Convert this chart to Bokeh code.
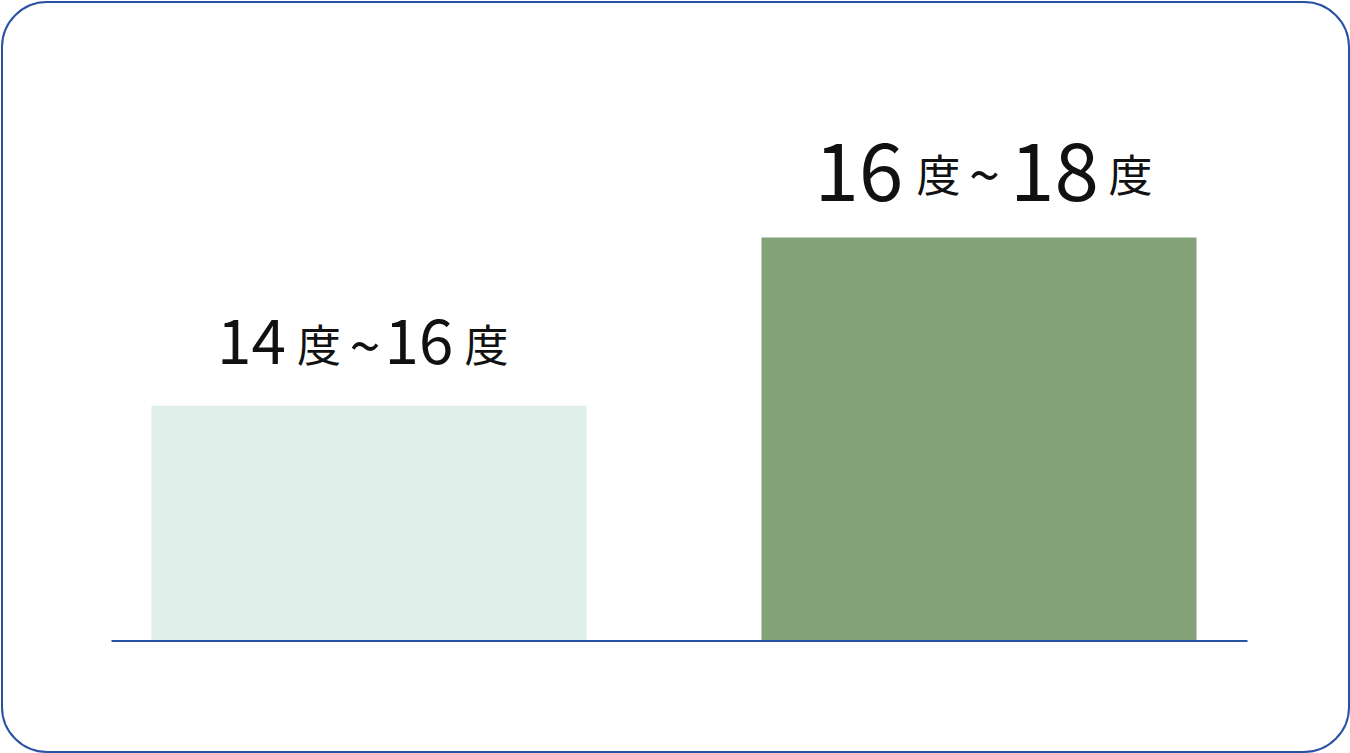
import re
from bokeh.plotting import figure
from bokeh.models import ColumnDataSource, Range1d
from bokeh.core.properties import value
from bokeh.embed import file_html
from bokeh.resources import INLINE

# ---- data ----
categories = ["14度~16度", "16度~18度"]
values = [35, 60]
bar_colors = ["#dfeee8", "#84a278"]

# ---- layout / style (pixels) ----
W, H = 1350, 753
PX_PER_CAT = 610.0
PX_PER_VAL = 403.5 / 60.0
CENTER0_PX = 368.5
BASE_FROM_BOTTOM = 112.5
BAR_W_PX = 435.0
AXIS_PAD_LEFT_PX = 40.0
AXIS_PAD_RIGHT_PX = 51.0
BLUE = "#2a52a3"
FONT = "Noto Sans CJK JP"

# per label: (x offset, y offset) of each run's centre relative to bar centre / bar top
run_offsets = [
    [(-117.5, -64.5), (-50, -62.5), (-4, -63), (50, -64.5), (117.5, -62.5)],
    [(-120, -66), (-40.5, -65), (5.5, -66), (75.5, -66), (151.5, -65)],
]
digit_sizes = [62, 80]
cjk_size = 44
tilde_size = 56

x_range = Range1d(-CENTER0_PX / PX_PER_CAT, (W - CENTER0_PX) / PX_PER_CAT)
y_range = Range1d(-BASE_FROM_BOTTOM / PX_PER_VAL, (H - BASE_FROM_BOTTOM) / PX_PER_VAL)

p = figure(width=W, height=H, x_range=x_range, y_range=y_range,
           output_backend="svg", toolbar_location=None,
           x_axis_location=None, y_axis_location=None, min_border=0)
p.grid.visible = False
p.outline_line_color = None
p.background_fill_color = "white"
p.border_fill_color = "white"

# rounded frame
p.quad(left=[x_range.start + 1.5 / PX_PER_CAT], right=[x_range.end - 1.5 / PX_PER_CAT],
       bottom=[y_range.start + 1.5 / PX_PER_VAL], top=[y_range.end - 1.5 / PX_PER_VAL],
       fill_color=None, line_color=BLUE, line_width=2, border_radius=45)

xs = list(range(len(categories)))
bar_w = BAR_W_PX / PX_PER_CAT
p.vbar(x=xs, top=values, bottom=0, width=bar_w, fill_color=bar_colors, line_color=None)

# baseline
p.segment(x0=[xs[0] - bar_w / 2 - AXIS_PAD_LEFT_PX / PX_PER_CAT],
          x1=[xs[-1] + bar_w / 2 + AXIS_PAD_RIGHT_PX / PX_PER_CAT],
          y0=[0], y1=[0], line_color=BLUE, line_width=2)

# labels made of runs (digits large, 度 / ~ smaller)
tx, ty, tt, tsz, txo, tyo = [], [], [], [], [], []
for i, cat in enumerate(categories):
    runs = re.findall(r"\d+|\D", cat)
    for run, (dx, dy) in zip(runs, run_offsets[i]):
        tx.append(xs[i]); ty.append(values[i]); tt.append(run)
        if run.isdigit():
            size = digit_sizes[i]
        elif run == "~":
            size = tilde_size
        else:
            size = cjk_size
        tsz.append(f"{size}px")
        txo.append(dx); tyo.append(dy)
src = ColumnDataSource(dict(x=tx, y=ty, text=tt, size=tsz, xo=txo, yo=tyo))
p.text(x="x", y="y", text="text", source=src, text_font_size="size",
       x_offset="xo", y_offset="yo", text_align="center", text_baseline="middle",
       text_font=value(FONT), text_color="#111111")

open("out.html", "w").write(file_html(p, INLINE))
